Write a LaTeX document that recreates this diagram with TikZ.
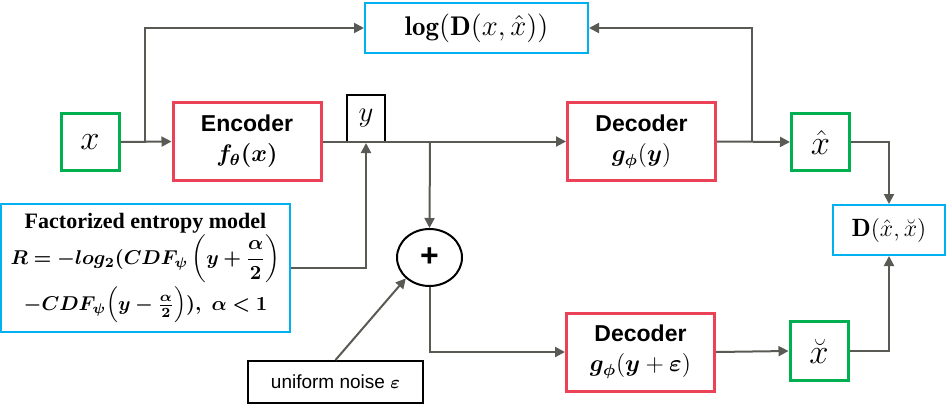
\documentclass[tikz,border=0pt]{standalone}
\usepackage{amsmath}
\usepackage{bm}
\usepackage{fontspec}
\usepackage{xcolor}
\usetikzlibrary{positioning, arrows.meta, shapes.geometric}
\newfontfamily\arialfont{Liberation Sans}
\newfontfamily\timesfont{Liberation Serif}
\definecolor{redbox}{RGB}{236,66,88}
\definecolor{greenbox}{RGB}{0,176,80}
\definecolor{bluebox}{RGB}{0,176,240}
\definecolor{wire}{RGB}{90,90,85}

\begin{document}
\begin{tikzpicture}[
  x=0.5pt, y=-0.5pt,
  netbox/.style={draw=redbox, line width=1.5pt, minimum width=74pt, minimum height=39pt, align=center, inner sep=2pt, font=\arialfont\bfseries\fontsize{11.5}{15}\selectfont},
  sigbox/.style={draw=greenbox, line width=1.5pt, minimum width=29pt, minimum height=28.5pt, inner sep=0pt, font=\fontsize{19}{20}\selectfont},
  lossbox/.style={draw=bluebox, line width=1pt, align=center, inner sep=2pt},
  plainbox/.style={draw=black, line width=1pt, inner sep=2pt},
  arrow/.style={-{Triangle[length=5pt, width=5pt]}, draw=wire, line width=1pt},
  wireline/.style={draw=wire, line width=1pt}
]
\useasboundingbox (0,0) rectangle (952,407);

% signals
\node[sigbox] (xin) at (90,142) {$x$};
\node[sigbox] (xhat) at (820.5,142) {$\hat{x}$};
\node[sigbox, minimum height=29.5pt] (xchk) at (819,351) {$\breve{x}$};

% networks
\node[netbox] (enc) at (247,141.5) {Encoder\\$\bm{f_{\theta}(x)}$};
\node[netbox] (dec1) at (641.5,141.5) {Decoder\\$\bm{g_{\phi}}(\bm{y})$};
\node[netbox] (dec2) at (640.5,352) {Decoder\\$\bm{g_{\phi}}(\bm{y}+\bm{\varepsilon})$};

% latent
\node[plainbox, minimum width=19pt, minimum height=23.5pt, inner sep=0pt, font=\fontsize{15}{16}\selectfont] (ylat) at (366,118.5) {$y$};

% losses
\node[lossbox, minimum width=111.5pt, minimum height=25pt, font=\fontsize{13.5}{16}\selectfont] (logd) at (476.5,28) {$\mathbf{log(D(}x,\hat{x}\mathbf{))}$};
\node[lossbox, minimum width=56pt, minimum height=25pt, font=\fontsize{12.5}{15}\selectfont] (dist) at (889,230) {$\mathbf{D(}\hat{x},\breve{x}\mathbf{)}$};
\node[lossbox, minimum width=144.5pt, minimum height=64pt, inner sep=1pt, font=\fontsize{10}{12}\selectfont] (ent) at (145.5,268)
  {{\timesfont\bfseries\fontsize{11}{12}\selectfont Factorized entropy model}\\[0pt]
   $\bm{R=-log_{2}(CDF_{\psi}\left(y+\dfrac{\alpha}{2}\right)}$\\[1pt]
   $\bm{-CDF_{\psi}\Bigl(y-\tfrac{\alpha}{2}\Bigr)),\ \alpha<1}$};

% noise
\node[ellipse, draw=black, line width=1pt, minimum width=32.5pt, minimum height=28.5pt, inner sep=0pt, font=\arialfont\bfseries\fontsize{16}{16}\selectfont] (plus) at (429.5,257.5) {+};
\node[plainbox, minimum width=87.5pt, minimum height=21pt, font=\arialfont\fontsize{9.5}{11}\selectfont] (noise) at (335.5,382) {uniform noise $\bm{\varepsilon}$};

% taps
\coordinate (tapx) at (145,142);
\coordinate (tapy) at (430,142);
\coordinate (tapd) at (752,142);

% connectors
\draw[arrow] (xin.east) -- (enc.west);
\draw[arrow] (tapx) |- (logd.west);
\draw[arrow] (enc.east) -- (dec1.west);
\draw[arrow] (ent.east) -| (ylat.south);
\draw[arrow] (tapy) -- (plus.north);
\draw[arrow] (plus.south) |- (dec2.west);
\draw[arrow] (noise.north) -- (plus.south west);
\draw[arrow] (dec1.east) -- (xhat.west);
\draw[arrow] (tapd) |- (logd.east);
\draw[arrow] (xhat.east) -| (dist.north);
\draw[arrow] (dec2.east) -- (xchk.west);
\draw[arrow] (xchk.east) -| (dist.south);

\end{tikzpicture}
\end{document}
